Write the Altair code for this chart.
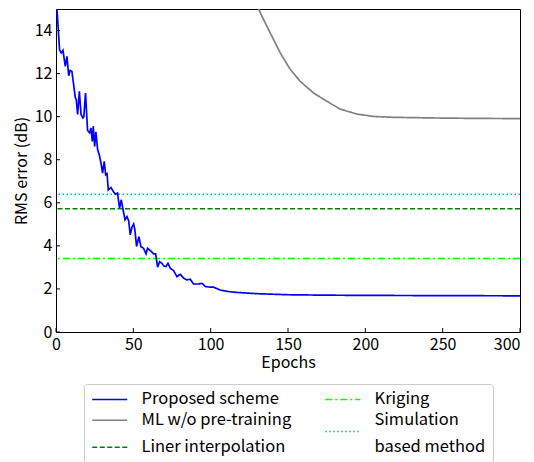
import altair as alt
import pandas as pd

# ---- data ----
proposed_epochs = [0, 2.3, 3.4, 4.5, 6, 7.1, 8.2, 9.2, 10.3, 12.5, 13.1, 14, 15.1, 16.2, 17.4, 18, 19.1,
                   20.4, 21.7, 22.6, 23.5, 24.1, 25, 25.8, 26.9, 28, 29.1, 30.1, 31.2, 32.1, 33, 33.8,
                   35.5, 37.3, 38.6, 39.8, 41.1, 42.2, 43.3, 44.6, 45.9, 47, 48, 49.1, 50.2, 51, 52.1,
                   53.6, 54.9, 56.6, 58.2, 59.2, 61, 63.1, 64.4, 65.7, 67, 68.5, 69.6, 71.1, 72.4, 73.9,
                   76, 78.2, 80.3, 82.5, 84.6, 86.8, 88.9, 92.1, 94.4, 96.6, 99.8, 101.9, 106.2, 110.5,
                   114.8, 118.7, 130, 150, 175, 200, 250, 300]
proposed_rmse = [15.7, 13.1, 12.96, 13.08, 12.34, 12.8, 11.9, 12.15, 12.1, 10.87, 10.8, 10.1, 11.18, 10.1,
                 9.94, 10.0, 11.1, 9.36, 9.25, 9.47, 8.85, 9.55, 8.62, 9.3, 8.47, 8.23, 7.84, 7.38, 7.92,
                 7.3, 7.35, 6.6, 6.71, 6.5, 6.4, 6.45, 5.75, 6.14, 5.7, 5.21, 5.36, 5.16, 4.51, 4.87, 5.02,
                 4.74, 3.97, 4.43, 3.96, 3.89, 3.63, 3.89, 3.78, 3.63, 3.63, 3.01, 3.27, 3.19, 3.07, 3.04,
                 3.19, 2.96, 2.85, 2.57, 2.68, 2.5, 2.42, 2.45, 2.23, 2.23, 2.26, 2.11, 2.08, 2.08, 1.95,
                 1.89, 1.85, 1.83, 1.78, 1.73, 1.71, 1.70, 1.69, 1.68]
ml_epochs = [128, 131, 134.2, 138.5, 145, 151.5, 157.9, 166.5, 175.2, 183.8, 194.6, 205.3, 218.2, 244, 270, 300]
ml_rmse = [15.6, 15.0, 14.51, 13.89, 12.96, 12.19, 11.64, 11.1, 10.71, 10.35, 10.12, 10.01, 9.97, 9.94, 9.92, 9.91]

baseline_names = ["Liner interpolation", "Kriging", "Simulation based method"]
baseline_rmse = [5.72, 3.41, 6.40]

x_ticks = [0, 50, 100, 150, 200, 250, 300]
y_ticks = [0, 2, 4, 6, 8, 10, 12, 14]

# legend fills column by column; the last entry carries the second line of the
# "Simulation based method" label (no symbol of its own)
series_order = ["Proposed scheme", "ML w/o pre-training", "Liner interpolation",
                "Kriging", "Simulation based method", "based method"]
series_colors = ["#0000ff", "#808080", "#008000", "#00ff00", "#00bfbf", "rgba(0,0,0,0)"]
series_dashes = [[1, 0], [1, 0], [5, 2.5], [7, 3, 2, 3], [1.5, 2.5], [1, 0]]

FONT = "Noto Sans CJK JP"

curves = pd.concat([
    pd.DataFrame({"series": "Proposed scheme", "epoch": proposed_epochs, "rmse": proposed_rmse}),
    pd.DataFrame({"series": "ML w/o pre-training", "epoch": ml_epochs, "rmse": ml_rmse}),
], ignore_index=True)
baselines = pd.DataFrame({"series": baseline_names, "rmse": baseline_rmse})

legend = alt.Legend(
    title=None, orient="none", legendX=28, legendY=375, columns=2,
    columnPadding=30, rowPadding=4, padding=7,
    strokeColor="#cccccc", fillColor="white", cornerRadius=3,
    symbolSize=196, symbolStrokeWidth=1.5,
    symbolType={"expr": "datum.value == 'Simulation based method' ? 'M-1,1.6H4' : 'M-1,0H4'"},
    labelFont=FONT, labelFontSize=16.5, labelColor="black", labelOffset=34, labelLimit=300,
    labelExpr="datum.label == 'Simulation based method' ? 'Simulation' : datum.label",
)

color = alt.Color("series:N", scale=alt.Scale(domain=series_order, range=series_colors), legend=legend)
dash = alt.StrokeDash("series:N", scale=alt.Scale(domain=series_order, range=series_dashes), legend=legend)

xs = alt.Scale(domain=[0, 300], nice=False)
ys = alt.Scale(domain=[0, 15], nice=False)

x_axis = alt.Axis(values=x_ticks, title="Epochs", domain=False, ticks=False, grid=False,
                  labelPadding=4, titlePadding=2, labelFlush=False,
                  labelAlign={"expr": "datum.value == 300 ? 'right' : 'center'"})
y_axis = alt.Axis(values=y_ticks, title="RMS error (dB)", domain=False, ticks=False, grid=False,
                  labelPadding=4, titlePadding=5, labelFlush=False)

lines = alt.Chart(curves).mark_line(clip=True, strokeWidth=1.7).encode(
    x=alt.X("epoch:Q", scale=xs, axis=x_axis),
    y=alt.Y("rmse:Q", scale=ys, axis=y_axis),
    color=color, strokeDash=dash, detail="series:N",
)
rules = alt.Chart(baselines).mark_rule(strokeWidth=1.5).encode(
    y=alt.Y("rmse:Q", scale=ys),
    color=color, strokeDash=dash,
)

H = 323
xt = alt.Chart(pd.DataFrame({"epoch": x_ticks})).mark_rule(color="black", strokeWidth=1).encode(
    x=alt.X("epoch:Q", scale=xs), y=alt.value(H), y2=alt.value(H - 4))
yt = alt.Chart(pd.DataFrame({"rmse": y_ticks})).mark_rule(color="black", strokeWidth=1).encode(
    y=alt.Y("rmse:Q", scale=ys), x=alt.value(0), x2=alt.value(4))

chart = alt.layer(rules, lines, xt, yt).properties(
    width=464, height=H,
    autosize=alt.AutoSizeParams(type="none"),
    padding={"left": 48, "top": 1, "right": 6, "bottom": 130},
).configure_view(stroke="black", strokeWidth=1).configure_axis(
    labelFont=FONT, labelFontSize=16, labelColor="black",
    titleFont=FONT, titleFontSize=16, titleColor="black", titleFontWeight="normal",
)

chart.save("out.html", embed_options={"renderer": "svg", "actions": False})
